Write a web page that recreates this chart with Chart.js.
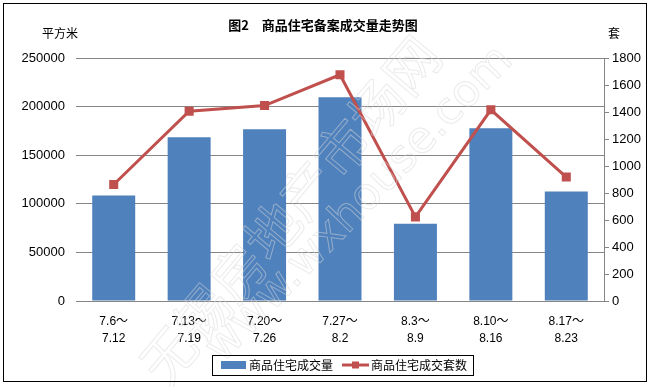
<!DOCTYPE html>
<html><head><meta charset="utf-8">
<script src="https://cdn.jsdelivr.net/npm/chart.js@4.4.0/dist/chart.umd.min.js"></script>
<style>html,body{margin:0;padding:0;background:#fff}#w{width:650px;height:387px;position:relative}</style>
</head><body><div id="w"><canvas id="c" width="650" height="387"></canvas></div>
<script>
const categories = [['7.6～','7.12'],['7.13～','7.19'],['7.20～','7.26'],['7.27～','8.2'],['8.3～','8.9'],['8.10～','8.16'],['8.17～','8.23']];
const areaValues = [108500, 168400, 176600, 209700, 79500, 177700, 112600];
const unitValues = [863, 1406, 1448, 1676, 623, 1416, 918];
const areaLabel = '商品住宅成交量';
const unitLabel = '商品住宅成交套数';
const titleText = '图2　商品住宅备案成交量走势图';
const leftUnit = '平方米';
const rightUnit = '套';

const BLUE = '#4F81BD', RED = '#C0504D', GRID = '#868686';
const NUMF = "'Liberation Sans','Noto Sans CJK SC',sans-serif";
const CJK = "'Noto Sans CJK SC',sans-serif";

const deco = {
  id: 'deco',
  beforeDraw(chart) {
    const ctx = chart.ctx;
    ctx.save();
    ctx.fillStyle = '#fff';
    ctx.fillRect(0, 0, chart.width, chart.height);
    ctx.restore();
  },
  afterDraw(chart) {
    const ctx = chart.ctx;
    ctx.save();
    // watermark
    ctx.strokeStyle = 'rgba(215,215,215,0.5)';
    ctx.lineWidth = 1;
    ctx.textAlign = 'center';
    ctx.textBaseline = 'middle';
    ctx.save();
    ctx.translate(290, 210);
    ctx.rotate(-50 * Math.PI / 180);
    ctx.font = "54px " + CJK;
    ctx.strokeText('无锡房地产市场网', 0, 0);
    ctx.restore();
    ctx.save();
    ctx.translate(360, 205);
    ctx.rotate(-46 * Math.PI / 180);
    ctx.font = "44px 'DejaVu Sans',sans-serif";
    ctx.strokeText('www.wxhouse.com', 0, 0);
    ctx.restore();

    // border
    ctx.strokeStyle = '#000';
    ctx.lineWidth = 1;
    ctx.strokeRect(3.5, 3.5, 643, 378);
    // title
    ctx.fillStyle = '#000';
    ctx.textAlign = 'center';
    ctx.textBaseline = 'middle';
    ctx.font = "bold 13px " + CJK;
    ctx.fillText(titleText, 323, 25);
    ctx.font = "12px " + CJK;
    ctx.textAlign = 'left';
    ctx.fillText(leftUnit, 42, 33);
    ctx.fillText(rightUnit, 608, 33);
    // legend
    ctx.strokeRect(212.5, 355.5, 261, 20);
    ctx.fillStyle = BLUE;
    ctx.fillRect(221, 361, 25, 8);
    ctx.fillStyle = '#000';
    ctx.font = "12px " + CJK;
    ctx.textBaseline = 'middle';
    ctx.fillText(chart.data.datasets[0].label, 249, 365.5);
    ctx.strokeStyle = RED;
    ctx.lineWidth = 3;
    ctx.beginPath(); ctx.moveTo(342, 365); ctx.lineTo(369, 365); ctx.stroke();
    ctx.fillStyle = RED;
    ctx.fillRect(352, 361.5, 7, 7);
    ctx.fillStyle = '#000';
    ctx.fillText(chart.data.datasets[1].label, 371, 365.5);
    ctx.restore();
  }
};

new Chart(document.getElementById('c'), {
  data: {
    labels: categories,
    datasets: [
      { type: 'bar', label: areaLabel, data: areaValues, backgroundColor: BLUE, yAxisID: 'y', order: 2,
        categoryPercentage: 1, barPercentage: 0.57 },
      { type: 'line', label: unitLabel, data: unitValues, borderColor: RED, backgroundColor: RED, borderWidth: 3,
        pointStyle: 'rect', pointRadius: 6.4, pointHoverRadius: 6.4, pointBackgroundColor: RED, pointBorderColor: RED,
        pointBorderWidth: 0, tension: 0, yAxisID: 'y1', order: 1 }
    ]
  },
  options: {
    responsive: false, devicePixelRatio: 1, animation: false,
    layout: { padding: { top: 58, left: 0, right: 0, bottom: 0 } },
    plugins: { legend: { display: false }, title: { display: false }, tooltip: { enabled: false } },
    scales: {
      x: {
        grid: { display: false, drawTicks: false }, border: { display: false },
        ticks: { padding: 12, color: '#000', maxRotation: 0, autoSkip: false, font: { size: 12, family: NUMF, lineHeight: 1.42 } },
        afterFit(s) { s.height = 86; }
      },
      y: {
        position: 'left', min: 0, max: 250000,
        ticks: { stepSize: 50000, padding: 11, color: '#000', font: { size: 13, family: NUMF }, callback: v => String(v) },
        grid: { color: GRID, drawTicks: false, lineWidth: 1 }, border: { display: false },
        afterFit(s) { s.width = 76; }
      },
      y1: {
        position: 'right', min: 0, max: 1800,
        ticks: { stepSize: 200, padding: 3, color: '#000', font: { size: 13, family: NUMF }, callback: v => String(v) },
        grid: { drawOnChartArea: false, color: GRID, tickLength: 5 }, border: { display: true, color: GRID },
        afterFit(s) { s.width = 46; }
      }
    }
  },
  plugins: [deco]
});
</script></body></html>
